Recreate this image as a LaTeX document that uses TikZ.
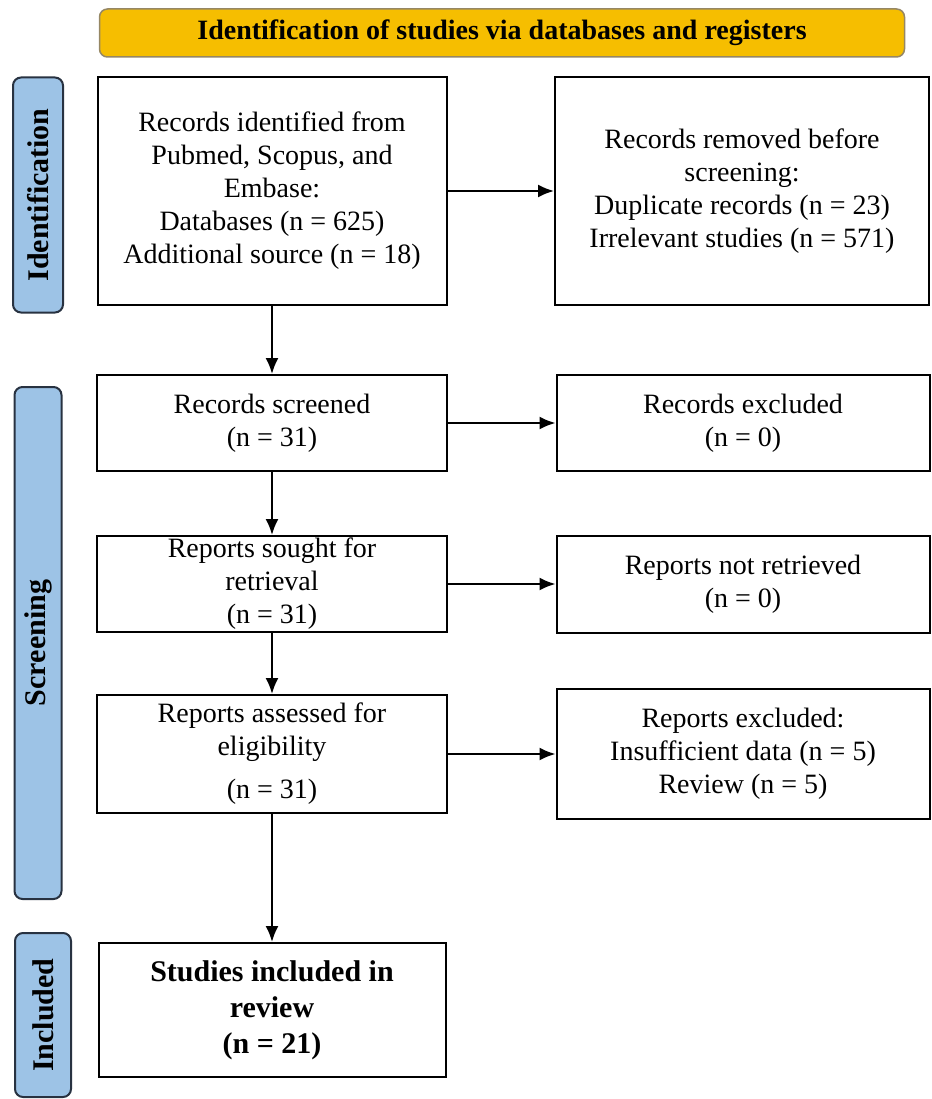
\documentclass[tikz,border=0pt]{standalone}
\usepackage{fontspec}
\setmainfont{Liberation Serif}
\usetikzlibrary{arrows.meta}
\definecolor{bannergold}{RGB}{246,190,0}
\definecolor{bannerline}{RGB}{150,135,100}
\definecolor{phaseblue}{RGB}{157,195,230}
\definecolor{phaseline}{RGB}{40,50,65}
\begin{document}
\begin{tikzpicture}[x=1pt,y=-1pt]
        \tikzset{box/.style = {draw,line width=2pt,inner sep=0pt,align=center,font=\fontsize{28}{33}\selectfont}}
        \tikzset{phase/.style = {draw=phaseline,fill=phaseblue,line width=2pt,rounded corners=8pt,inner sep=0pt,rotate=90,font=\bfseries\fontsize{30}{32}\selectfont}}
        \tikzset{flow/.style = {-{Latex[length=16pt,width=13pt]},line width=2pt}}

        \useasboundingbox (0,0) rectangle (931,1099);

        \node[draw=bannerline,fill=bannergold,line width=1.5pt,rounded corners=8pt,minimum width=805pt,minimum height=48pt,font=\bfseries\fontsize{28}{30}\selectfont] (banner) at (502,33) {Identification of studies via databases and registers};

        \node[phase,minimum width=235pt,minimum height=50pt] (ident) at (38,195) {Identification};
        \node[phase,minimum width=512pt,minimum height=47pt] (screen) at (38,643) {Screening};
        \node[phase,minimum width=164pt,minimum height=56pt] (incl) at (43,1015) {Included};

        \node[box,minimum width=349pt,minimum height=228pt] (records) at (272,191) {Records identified from\\Pubmed, Scopus, and\\Embase:\\Databases (n = 625)\\Additional source (n = 18)};
        \node[box,minimum width=374pt,minimum height=228pt] (removed) at (742,191) {Records removed before\\screening:\\Duplicate records (n = 23)\\Irrelevant studies (n = 571)};

        \node[box,minimum width=350pt,minimum height=96pt] (screened) at (272,423) {Records screened\\(n = 31)};
        \node[box,minimum width=373pt,minimum height=96pt] (excluded) at (743,423) {Records excluded\\(n = 0)};

        \node[box,minimum width=350pt,minimum height=96pt] (sought) at (272,584) {Reports sought for\\retrieval\\(n = 31)};
        \node[box,minimum width=373pt,minimum height=97pt] (notret) at (743,584) {Reports not retrieved\\(n = 0)};

        \node[box,minimum width=350pt,minimum height=118pt] (assessed) at (272,754) {Reports assessed for\\eligibility\\[10pt](n = 31)};
        \node[box,minimum width=373pt,minimum height=130pt] (repexcl) at (743,754) {Reports excluded:\\Insufficient data (n = 5)\\Review (n = 5)};

        \node[box,minimum width=347pt,minimum height=134pt,font=\bfseries\fontsize{30}{36}\selectfont] (included) at (272,1010) {Studies included in\\review\\(n = 21)};

        \draw[flow] (records) -- (removed);
        \draw[flow] (screened) -- (excluded);
        \draw[flow] (sought) -- (notret);
        \draw[flow] (assessed) -- (repexcl);

        \draw[flow] (records) -- (screened);
        \draw[flow] (screened) -- (sought);
        \draw[flow] (sought) -- (assessed);
        \draw[flow] (assessed) -- (included);
    \end{tikzpicture}
\end{document}
